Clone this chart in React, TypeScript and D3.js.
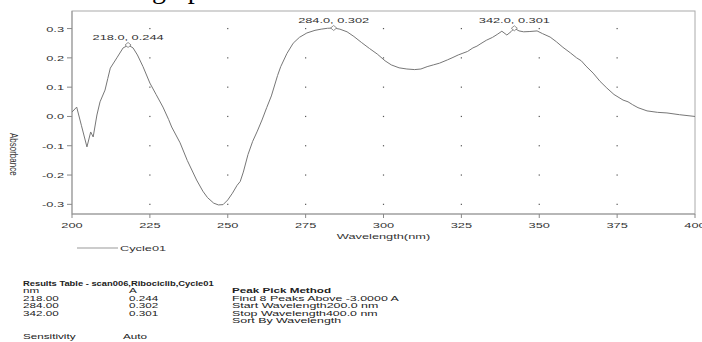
import React from "react";
import * as d3 from "d3";

const wavelengths = [200,201.5,203,204.8,206,206.8,208,209,210.6,211.5,212.3,214.4,216.4,217.5,218,219.6,221,222.8,225,227,229.2,231,232,234.7,237,240,242,243.5,245.5,247,248.5,250,251.5,253,254,255,256.5,258,259.5,261,262.5,264,266,267,269,271,273,275.4,278,280,282,284,286,288.3,290.5,293,295.5,298,300.5,302.5,305,307.5,310,312,314,316,318,320.5,322,324,325.5,327,328.7,330,331,333,335,336.5,338,339.6,341,342,343.5,345,347,349.3,351,353.5,355.5,357.6,360,362,363.5,365,367.3,369.5,371.7,374,376.9,378.5,380,381.7,384.6,388,391,395,400];
const absorbance = [0.015,0.032,-0.03,-0.104,-0.053,-0.07,0.005,0.05,0.09,0.13,0.165,0.2,0.234,0.24,0.244,0.234,0.21,0.17,0.114,0.075,0.032,-0.01,-0.036,-0.09,-0.15,-0.217,-0.255,-0.277,-0.296,-0.302,-0.301,-0.285,-0.262,-0.235,-0.222,-0.19,-0.13,-0.085,-0.05,-0.012,0.03,0.07,0.14,0.17,0.215,0.25,0.27,0.285,0.294,0.298,0.301,0.302,0.298,0.289,0.273,0.252,0.232,0.213,0.19,0.176,0.166,0.162,0.16,0.162,0.17,0.176,0.182,0.193,0.2,0.21,0.216,0.222,0.234,0.24,0.247,0.26,0.27,0.28,0.291,0.278,0.29,0.301,0.292,0.289,0.29,0.292,0.283,0.271,0.255,0.236,0.217,0.2,0.19,0.172,0.148,0.12,0.097,0.075,0.056,0.05,0.04,0.03,0.019,0.014,0.012,0.006,0.0];

const peakNm = [218, 284, 342];
const peakA = [0.244, 0.302, 0.301];
const xTicks = [200, 225, 250, 275, 300, 325, 350, 375, 400];
const yTicks = [-0.3, -0.2, -0.1, 0.0, 0.1, 0.2, 0.3];

const tableTitle = "Results Table - scan006,Ribociclib,Cycle01";
const tableNm = ["218.00", "284.00", "342.00"];
const tableA = ["0.244", "0.302", "0.301"];
const methodLines = ["Find 8 Peaks Above -3.0000 A", "Start Wavelength200.0 nm", "Stop Wavelength400.0 nm", "Sort By Wavelength"];

const SX = 1.6;
const FONT = "Arial, 'Liberation Sans', sans-serif";
const TC = "#333";

function T({ x, y, children, anchor = "start", bold = false, size = 8, fill = TC, sx = SX }: any) {
  return (
    <text
      transform={`translate(${x},${y}) scale(${sx},1)`}
      textAnchor={anchor}
      fontFamily={FONT}
      fontSize={size}
      fontWeight={bold ? "bold" : "normal"}
      fill={fill}
    >
      {children}
    </text>
  );
}

export default function App() {
  const W = 702, H = 342;
  const left = 72, right = 695, top = 11, bottom = 214;
  const x = d3.scaleLinear().domain([200, 400]).range([left, right]);
  const y = d3.scaleLinear().domain([-0.333, 0.36]).range([bottom, top]);
  const pts: [number, number][] = wavelengths.map((w, i) => [w, absorbance[i]]);
  const line = d3.line<[number, number]>().x(d => x(d[0])).y(d => y(d[1]));

  const rows = [300.5, 308, 315.5];
  return (
    <svg width={W} height={H} style={{ position: "absolute", left: 0, top: 0, background: "#fff" }}>
      <rect width={W} height={H} fill="#fff" />
      <text x={152} y={-2} fontFamily="'Liberation Serif', 'Times New Roman', serif" fontSize={28} fill="#000">graph</text>
      {/* frame */}
      <rect x={left} y={top} width={right - left} height={bottom - top} fill="none" stroke="#aaa" strokeWidth={1} />
      <line x1={left} x2={left} y1={top} y2={bottom} stroke="#999" />
      <line x1={left} x2={right} y1={bottom} y2={bottom} stroke="#999" />
      {/* grid dots */}
      {xTicks.filter(t => t > 200 && t < 400).map(tx =>
        yTicks.map(ty => (
          <rect key={`${tx}_${ty}`} x={x(tx) - 0.6} y={y(ty) - 0.6} width={1.2} height={1.2} fill="#555" />
        ))
      )}
      {/* y ticks */}
      {yTicks.map(t => (
        <g key={`y${t}`}>
          <line x1={left - 5} x2={left} y1={y(t)} y2={y(t)} stroke="#888" />
          <T x={left - 8} y={y(t) + 3} anchor="end">{t.toFixed(1)}</T>
        </g>
      ))}
      {/* x ticks */}
      {xTicks.map(t => (
        <g key={`x${t}`}>
          <line x1={x(t)} x2={x(t)} y1={bottom} y2={bottom + 4} stroke="#888" />
          <T x={x(t)} y={bottom + 14} anchor="middle">{String(t)}</T>
        </g>
      ))}
      <T x={(left + right) / 2 + 0} y={239} anchor="middle">Wavelength(nm)</T>
      <text transform={`translate(10,133) rotate(90) scale(1,1.3)`} fontFamily={FONT} fontSize={8} fill={TC}>Absorbance</text>
      {/* curve */}
      <path d={line(pts) || ""} fill="none" stroke="#777" strokeWidth={1} />
      {/* peaks */}
      {peakNm.map((p, i) => {
        const px = x(p), py = y(peakA[i]);
        return (
          <g key={`p${p}`}>
            <path d={`M${px - 3},${py} L${px},${py - 2.5} L${px + 3},${py} L${px},${py + 2.5} Z`} fill="#fff" stroke="#777" strokeWidth={0.8} />
            <T x={px} y={py - 5} anchor="middle">{`${p.toFixed(1)}, ${peakA[i].toFixed(3)}`}</T>
          </g>
        );
      })}
      {/* legend */}
      <line x1={77} x2={118} y1={248} y2={248} stroke="#999" />
      <T x={120} y={251}>Cycle01</T>
      {/* results table */}
      <T x={23} y={286} bold size={7.5} sx={1.25} fill="#222">{tableTitle}</T>
      <T x={23} y={293} size={7.3} fill="#222">nm</T>
      <T x={129} y={293} size={7.3} fill="#222">A</T>
      <T x={232} y={293} bold size={7.3} fill="#222">Peak Pick Method</T>
      {tableNm.map((v, i) => (
        <g key={`r${i}`}>
          <T x={23} y={rows[i]} size={7.3} fill="#222">{v}</T>
          <T x={129} y={rows[i]} size={7.3} fill="#222">{tableA[i]}</T>
        </g>
      ))}
      {methodLines.map((m, i) => (
        <T key={`m${i}`} x={232} y={300.5 + i * 7.5} size={7.3} sx={1.7} fill="#222">{m}</T>
      ))}
      <T x={23} y={339} size={7.3} fill="#222">Sensitivity</T>
      <T x={123} y={339} size={7.3} fill="#222">Auto</T>
    </svg>
  );
}
